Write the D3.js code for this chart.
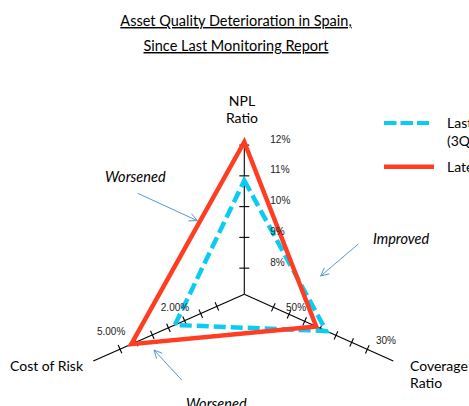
<!DOCTYPE html>
<html>
<head>
<meta charset="utf-8">
<script src="https://cdn.jsdelivr.net/npm/d3@7"></script>
<style>
  body { margin: 0; background: #fff; overflow: hidden; }
  svg { display: block; }
  text { font-family: Lato, "Open Sans", sans-serif; fill: #000; }
  .title { font-size: 14.5px; text-decoration: underline; }
  .axis-name { font-size: 14px; }
  .tick-label { font-family: "Liberation Sans", Arial, sans-serif; font-size: 10px; fill: #222; }
  .note { font-size: 14.5px; font-style: italic; }
  .legend-text { font-size: 14px; }
</style>
</head>
<body>
<svg id="chart" width="469" height="406"></svg>
<script>
// --- data ---
// order of the radar axes: NPL ratio (top), coverage ratio (lower right), cost of risk (lower left)
var axisKeys = ["npl", "coverage", "cost"];
var axisTitles = [["NPL", "Ratio"], ["Coverage", "Ratio"], ["Cost of Risk"]];

var nplTicks = [8, 9, 10, 11, 12];
var nplTickLabels = ["8%", "9%", "10%", "11%", "12%"];
var coverageTicks = [60, 55, 50, 45, 40, 35, 30];
var coverageLabelValues = [50, 30];
var coverageLabelTexts = ["50%", "30%"];
var costTicks = [0, 1, 2, 3, 4, 5, 6];
var costLabelValues = [2, 5];
var costLabelTexts = ["2.00%", "5.00%"];

var seriesNames = ["Last Report", "Latest"];
var seriesSubNames = ["(3Q13)", ""];
var lastValues = [10.85, 43.1, 2.6];     // npl, coverage, cost of risk
var latestValues = [12.1, 46.3, 5.3];

var notes = ["Worsened", "Improved", "Worsened"];

// --- layout ---
var svg = d3.select("#chart");
var cx = 244.3, cy = 294.3;
var red = "#ff3d22", cyan = "#0ccbf2", arrowBlue = "#5a96cf";

// every axis has its own scale: value -> fraction of the axis length
var axes = {
    npl:      { end: [0, -152.6],   scale: d3.scaleLinear().domain([7.15, 12.11]).range([0, 1]), ticks: nplTicks, half: 5 },
    coverage: { end: [149, 66.7],   scale: d3.scaleLinear().domain([69.26, 21.7]).range([0, 1]), ticks: coverageTicks, half: 4.5 },
    cost:     { end: [-151, 66.7],  scale: d3.scaleLinear().domain([-1.697, 7.653]).range([0, 1]), ticks: costTicks, half: 4.5 }
};

function pos(key, v) {
    var a = axes[key], t = a.scale(v);
    return [cx + t * a.end[0], cy + t * a.end[1]];
}

// title
svg.append("text").attr("class", "title").attr("x", 236).attr("y", 26)
    .attr("text-anchor", "middle").text("Asset Quality Deterioration in Spain,");
svg.append("text").attr("class", "title").attr("x", 236).attr("y", 51)
    .attr("text-anchor", "middle").text("Since Last Monitoring Report");

// axis lines and tick marks
var gAxes = svg.append("g").attr("stroke", "#000").attr("stroke-width", 1.1);
axisKeys.forEach(function(key) {
    var a = axes[key];
    gAxes.append("line").attr("x1", cx).attr("y1", cy)
        .attr("x2", cx + a.end[0]).attr("y2", cy + a.end[1]);
    var len = Math.sqrt(a.end[0] * a.end[0] + a.end[1] * a.end[1]);
    var nx = -a.end[1] / len, ny = a.end[0] / len;
    gAxes.selectAll(null).data(a.ticks).enter().append("line")
        .attr("x1", function(d) { return pos(key, d)[0] - nx * a.half; })
        .attr("y1", function(d) { return pos(key, d)[1] - ny * a.half; })
        .attr("x2", function(d) { return pos(key, d)[0] + nx * a.half; })
        .attr("y2", function(d) { return pos(key, d)[1] + ny * a.half; });
});

// series polygons
var line = d3.line().curve(d3.curveLinearClosed);
function polygon(values) {
    return line(values.map(function(v, i) { return pos(axisKeys[i], v); }));
}
svg.append("path").attr("d", polygon(lastValues))
    .attr("fill", "none").attr("stroke", cyan).attr("stroke-width", 4.5)
    .attr("stroke-dasharray", "12,5").attr("stroke-linejoin", "miter");
svg.append("path").attr("d", polygon(latestValues))
    .attr("fill", "none").attr("stroke", red).attr("stroke-width", 4.5)
    .attr("stroke-linejoin", "miter");

// tick labels
svg.selectAll(null).data(nplTicks).enter().append("text")
    .attr("class", "tick-label")
    .attr("x", cx + 26)
    .attr("y", function(d) { return pos("npl", d)[1] - 6; })
    .attr("dy", "0.35em")
    .text(function(d, i) { return nplTickLabels[i]; });

var costLabelShift = [[-9.6, -12.7], [-25, -11]];
svg.selectAll(null).data(costLabelValues).enter().append("text")
    .attr("class", "tick-label").attr("text-anchor", "middle").attr("dy", "0.35em")
    .attr("x", function(d, i) { return pos("cost", d)[0] + costLabelShift[i][0]; })
    .attr("y", function(d, i) { return pos("cost", d)[1] + costLabelShift[i][1]; })
    .text(function(d, i) { return costLabelTexts[i]; });

var coverageLabelShift = [[-8.6, -13.8], [18.7, -8.4]];
svg.selectAll(null).data(coverageLabelValues).enter().append("text")
    .attr("class", "tick-label").attr("text-anchor", "middle").attr("dy", "0.35em")
    .attr("x", function(d, i) { return pos("coverage", d)[0] + coverageLabelShift[i][0]; })
    .attr("y", function(d, i) { return pos("coverage", d)[1] + coverageLabelShift[i][1]; })
    .text(function(d, i) { return coverageLabelTexts[i]; });

// axis titles
var titleSpots = [
    { x: 242, y: 106, anchor: "middle" },
    { x: 410, y: 371, anchor: "start" },
    { x: 10,  y: 371, anchor: "start" }
];
axisTitles.forEach(function(lines, i) {
    var t = svg.append("text").attr("class", "axis-name")
        .attr("x", titleSpots[i].x).attr("y", titleSpots[i].y)
        .attr("text-anchor", titleSpots[i].anchor);
    lines.forEach(function(s, j) {
        t.append("tspan").attr("x", titleSpots[i].x).attr("dy", j ? 16.5 : 0).text(s);
    });
});

// annotations with arrows
var noteSpots = [
    { tx: 105, ty: 182, from: [137.7, 193.3], to: [197.3, 220.7] },
    { tx: 373, ty: 244, from: [358.3, 244],   to: [320.7, 276] },
    { tx: 186, ty: 409, from: [181.7, 380],   to: [154, 350] }
];
notes.forEach(function(n, i) {
    var s = noteSpots[i];
    svg.append("text").attr("class", "note").attr("x", s.tx).attr("y", s.ty).text(n);
    var ang = Math.atan2(s.to[1] - s.from[1], s.to[0] - s.from[0]);
    var head = 9, spread = 0.45;
    var g = svg.append("g").attr("stroke", arrowBlue).attr("stroke-width", 1).attr("fill", "none");
    g.append("line").attr("x1", s.from[0]).attr("y1", s.from[1]).attr("x2", s.to[0]).attr("y2", s.to[1]);
    g.append("polyline").attr("points", [
        [s.to[0] - head * Math.cos(ang - spread), s.to[1] - head * Math.sin(ang - spread)],
        s.to,
        [s.to[0] - head * Math.cos(ang + spread), s.to[1] - head * Math.sin(ang + spread)]
    ].map(function(p) { return p.join(","); }).join(" "));
});

// legend
var legendY = [123, 166.7];
var legend = svg.selectAll(null).data(seriesNames).enter().append("g");
legend.append("line")
    .attr("x1", 384).attr("x2", function(d, i) { return i ? 434 : 429; })
    .attr("y1", function(d, i) { return legendY[i]; })
    .attr("y2", function(d, i) { return legendY[i]; })
    .attr("stroke", function(d, i) { return i ? red : cyan; })
    .attr("stroke-width", function(d, i) { return i ? 4.5 : 4; })
    .attr("stroke-dasharray", function(d, i) { return i ? null : "12.5,4"; });
legend.append("text").attr("class", "legend-text")
    .attr("x", 447).attr("y", function(d, i) { return legendY[i] + 5; })
    .text(function(d) { return d; });
legend.append("text").attr("class", "legend-text")
    .attr("x", 447).attr("y", function(d, i) { return legendY[i] + 23; })
    .text(function(d, i) { return seriesSubNames[i]; });
</script>
</body>
</html>
